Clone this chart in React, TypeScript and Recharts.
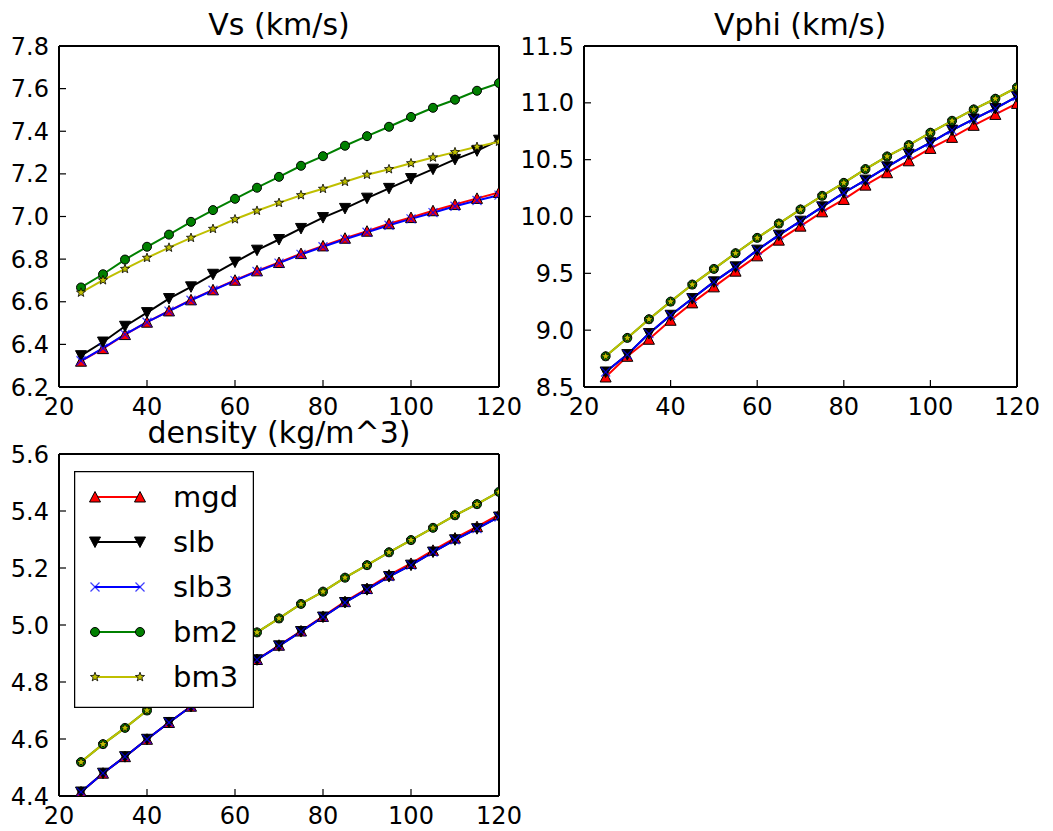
import React from 'react';
import { LineChart, Line, XAxis, YAxis, Legend } from 'recharts';

const pressures = [25, 30, 35, 40, 45, 50, 55, 60, 65, 70, 75, 80, 85, 90, 95, 100, 105, 110, 115, 120];

const vsMgd = [6.321, 6.38, 6.446, 6.504, 6.557, 6.609, 6.656, 6.701, 6.745, 6.784, 6.826, 6.862, 6.898, 6.931, 6.966, 6.995, 7.027, 7.056, 7.085, 7.113];
const vsSlb = [6.347, 6.411, 6.485, 6.549, 6.615, 6.67, 6.729, 6.786, 6.842, 6.892, 6.944, 6.995, 7.038, 7.086, 7.132, 7.178, 7.222, 7.268, 7.308, 7.358];
const vsSlb3 = [6.323, 6.382, 6.447, 6.504, 6.556, 6.607, 6.654, 6.699, 6.742, 6.781, 6.822, 6.858, 6.893, 6.926, 6.959, 6.989, 7.018, 7.048, 7.075, 7.1];
const vsBm2 = [6.667, 6.729, 6.798, 6.858, 6.915, 6.975, 7.03, 7.083, 7.135, 7.186, 7.238, 7.283, 7.332, 7.377, 7.421, 7.467, 7.51, 7.548, 7.59, 7.626];
const vsBm3 = [6.643, 6.701, 6.754, 6.806, 6.854, 6.9, 6.942, 6.987, 7.027, 7.064, 7.1, 7.13, 7.163, 7.196, 7.222, 7.25, 7.277, 7.302, 7.327, 7.351];

const vphiMgd = [8.588, 8.77, 8.92, 9.087, 9.24, 9.381, 9.519, 9.654, 9.792, 9.915, 10.041, 10.15, 10.276, 10.385, 10.49, 10.599, 10.696, 10.802, 10.898, 10.995];
const vphiSlb = [8.632, 8.785, 8.97, 9.131, 9.278, 9.425, 9.557, 9.704, 9.836, 9.959, 10.085, 10.209, 10.32, 10.437, 10.549, 10.649, 10.76, 10.857, 10.951, 11.054];
const vphiSlb3 = [8.632, 8.785, 8.97, 9.131, 9.278, 9.425, 9.557, 9.704, 9.836, 9.959, 10.085, 10.209, 10.32, 10.437, 10.549, 10.649, 10.76, 10.857, 10.951, 11.054];
const vphiBm2 = [8.77, 8.932, 9.096, 9.251, 9.401, 9.539, 9.677, 9.812, 9.938, 10.062, 10.182, 10.296, 10.417, 10.528, 10.628, 10.737, 10.842, 10.942, 11.036, 11.136];
const vphiBm3 = [8.77, 8.932, 9.096, 9.251, 9.401, 9.539, 9.677, 9.812, 9.938, 10.062, 10.182, 10.296, 10.417, 10.528, 10.628, 10.737, 10.842, 10.942, 11.036, 11.136];

const rhoMgd = [4.414, 4.48, 4.538, 4.599, 4.658, 4.715, 4.77, 4.825, 4.879, 4.929, 4.979, 5.03, 5.082, 5.128, 5.175, 5.216, 5.262, 5.305, 5.345, 5.387];
const rhoSlb = [4.414, 4.48, 4.538, 4.599, 4.658, 4.714, 4.769, 4.824, 4.878, 4.927, 4.977, 5.028, 5.079, 5.124, 5.17, 5.21, 5.256, 5.299, 5.338, 5.379];
const rhoSlb3 = [4.414, 4.48, 4.538, 4.599, 4.658, 4.714, 4.769, 4.824, 4.878, 4.927, 4.977, 5.028, 5.079, 5.124, 5.17, 5.21, 5.256, 5.299, 5.338, 5.379];
const rhoBm2 = [4.519, 4.582, 4.639, 4.7, 4.758, 4.814, 4.868, 4.921, 4.974, 5.023, 5.074, 5.117, 5.166, 5.21, 5.255, 5.298, 5.341, 5.385, 5.424, 5.467];
const rhoBm3 = [4.519, 4.582, 4.639, 4.7, 4.758, 4.814, 4.868, 4.921, 4.974, 5.023, 5.074, 5.117, 5.166, 5.21, 5.255, 5.298, 5.341, 5.385, 5.424, 5.467];

const xTicks = [20, 40, 60, 80, 100, 120];
const vsTicks = [6.2, 6.4, 6.6, 6.8, 7.0, 7.2, 7.4, 7.6, 7.8];
const vphiTicks = [8.5, 9.0, 9.5, 10.0, 10.5, 11.0, 11.5];
const rhoTicks = [4.4, 4.6, 4.8, 5.0, 5.2, 5.4, 5.6];

const FONT = 'DejaVu Sans';

const series = [
  { key: 'mgd', color: '#ff0000', marker: 'tri_up' },
  { key: 'slb', color: '#000000', marker: 'tri_down' },
  { key: 'slb3', color: '#0000ff', marker: 'x' },
  { key: 'bm2', color: '#008000', marker: 'circle' },
  { key: 'bm3', color: '#bfbf00', marker: 'star' },
];

const buildRows = (cols: Record<string, number[]>) =>
  pressures.map((p, i) => {
    const row: Record<string, number> = { p };
    Object.keys(cols).forEach((k) => {
      row[k] = cols[k][i];
    });
    return row;
  });

const vsData = buildRows({ mgd: vsMgd, slb: vsSlb, slb3: vsSlb3, bm2: vsBm2, bm3: vsBm3 });
const vphiData = buildRows({ mgd: vphiMgd, slb: vphiSlb, slb3: vphiSlb3, bm2: vphiBm2, bm3: vphiBm3 });
const rhoData = buildRows({ mgd: rhoMgd, slb: rhoSlb, slb3: rhoSlb3, bm2: rhoBm2, bm3: rhoBm3 });

const starPoints = (cx: number, cy: number, r: number) => {
  const pts: string[] = [];
  for (let i = 0; i < 10; i++) {
    const rad = i % 2 === 0 ? r : r * 0.42;
    const a = -Math.PI / 2 + (i * Math.PI) / 5;
    pts.push(`${cx + rad * Math.cos(a)},${cy + rad * Math.sin(a)}`);
  }
  return pts.join(' ');
};

const Marker = ({ cx, cy, type, color }: { cx: number; cy: number; type: string; color: string }) => {
  if (cx == null || cy == null) return null;
  switch (type) {
    case 'tri_up':
      return <polygon points={`${cx},${cy - 5.5} ${cx - 5.5},${cy + 5} ${cx + 5.5},${cy + 5}`} fill={color} stroke="#000" strokeWidth={1} />;
    case 'tri_down':
      return <polygon points={`${cx},${cy + 5.5} ${cx - 5.5},${cy - 5} ${cx + 5.5},${cy - 5}`} fill={color} stroke="#000" strokeWidth={1} />;
    case 'x':
      return (
        <g stroke={color} strokeWidth={1.2} strokeOpacity={0.75}>
          <line x1={cx - 4.5} y1={cy - 4.5} x2={cx + 4.5} y2={cy + 4.5} />
          <line x1={cx - 4.5} y1={cy + 4.5} x2={cx + 4.5} y2={cy - 4.5} />
        </g>
      );
    case 'circle':
      return <circle cx={cx} cy={cy} r={4.5} fill={color} stroke="#000" strokeWidth={1} />;
    case 'star':
      return <polygon points={starPoints(cx, cy, 4.8)} fill={color} stroke="#000" strokeWidth={0.8} />;
    default:
      return null;
  }
};

// keep the plotting order (mgd, slb, slb3, bm2, bm3) instead of the sorted payload
const renderLegend = () => (
  <svg width={180} height={237} style={{ display: 'block' }}>
    <rect x={0.5} y={0.5} width={179} height={236} fill="#fff" stroke="#000" strokeWidth={1.5} />
    {series.map((s, i) => {
      const y = 26 + i * 45;
      return (
        <g key={s.key}>
          <line x1={21} y1={y} x2={66} y2={y} stroke={s.color} strokeWidth={2} />
          <Marker cx={21} cy={y} type={s.marker} color={s.color} />
          <Marker cx={66} cy={y} type={s.marker} color={s.color} />
          <text x={99} y={y + 10} fontFamily={FONT} fontSize={29} fill="#000">
            {s.key}
          </text>
        </g>
      );
    })}
  </svg>
);

interface PanelProps {
  data: Record<string, number>[];
  yDomain: [number, number];
  yTicks: number[];
  left: number;
  top: number;
  width: number;
  height: number;
  yAxisWidth: number;
  rightMargin: number;
  showLegend?: boolean;
}

const tickStyle = { fontFamily: FONT, fontSize: 24, fill: '#000' };
const frame = { stroke: '#000', strokeWidth: 2 };
const tickLine = { stroke: '#000', strokeWidth: 1.2 };

const Panel: React.FC<PanelProps> = ({ data, yDomain, yTicks, left, top, width, height, yAxisWidth, rightMargin, showLegend }) => (
  <div style={{ position: 'absolute', left, top }}>
    <LineChart width={width} height={height} data={data} margin={{ top: 45, right: rightMargin - 1, left: 0, bottom: 0 }}>
      <XAxis
        xAxisId="b"
        dataKey="p"
        type="number"
        domain={[20, 120]}
        ticks={xTicks}
        allowDataOverflow
        height={33}
        tickSize={-7}
        tickMargin={18}
        tick={tickStyle}
        axisLine={frame}
        tickLine={tickLine}
      />
      {/* top frame edge with inward ticks; needs a non-zero size to be drawn */}
      <XAxis
        xAxisId="t"
        orientation="top"
        dataKey="p"
        type="number"
        domain={[20, 120]}
        ticks={xTicks}
        allowDataOverflow
        height={1}
        tickSize={-7}
        tick={false}
        axisLine={frame}
        tickLine={tickLine}
      />
      <YAxis
        yAxisId="l"
        type="number"
        domain={yDomain}
        ticks={yTicks}
        allowDataOverflow
        width={yAxisWidth}
        tickSize={-7}
        tickMargin={17}
        tick={tickStyle}
        tickFormatter={(v: number) => v.toFixed(1)}
        axisLine={frame}
        tickLine={tickLine}
      />
      <YAxis
        yAxisId="r"
        orientation="right"
        type="number"
        domain={yDomain}
        ticks={yTicks}
        allowDataOverflow
        width={1}
        tickSize={-7}
        tick={false}
        axisLine={frame}
        tickLine={tickLine}
      />
      <Line
        xAxisId="t"
        yAxisId="r"
        dataKey="bm3"
        stroke="none"
        dot={false}
        activeDot={false}
        legendType="none"
        isAnimationActive={false}
      />
      {series.map((s) => (
        <Line
          key={s.key}
          xAxisId="b"
          yAxisId="l"
          type="linear"
          dataKey={s.key}
          name={s.key}
          stroke={s.color}
          strokeWidth={2}
          isAnimationActive={false}
          dot={(props: any) => <Marker key={`${s.key}-${props.index}`} cx={props.cx} cy={props.cy} type={s.marker} color={s.color} />}
          activeDot={false}
        />
      ))}
      {showLegend && (
        <Legend
          layout="vertical"
          align="center"
          verticalAlign="middle"
          content={renderLegend}
          wrapperStyle={{ position: 'absolute', left: 74, top: 471 - top, width: 180, height: 237 }}
        />
      )}
    </LineChart>
  </div>
);

const Title = ({ text, cx, y }: { text: string; cx: number; y: number }) => (
  <div
    style={{
      position: 'absolute',
      left: cx - 200,
      width: 400,
      top: y,
      textAlign: 'center',
      fontFamily: FONT,
      fontSize: 30,
      lineHeight: '20px',
      color: '#000',
      whiteSpace: 'nowrap',
    }}
  >
    {text}
  </div>
);

export default function App() {
  return (
    <div style={{ position: 'absolute', left: 0, top: 0, width: 1053, height: 831, background: '#fff' }}>
      <Panel data={vsData} yDomain={[6.2, 7.8]} yTicks={vsTicks} left={0} top={0} width={540} height={420} yAxisWidth={59} rightMargin={41} />
      <Panel data={vphiData} yDomain={[8.5, 11.5]} yTicks={vphiTicks} left={520} top={0} width={533} height={420} yAxisWidth={64} rightMargin={36} />
      <Panel data={rhoData} yDomain={[4.4, 5.6]} yTicks={rhoTicks} left={0} top={408} width={540} height={421} yAxisWidth={59} rightMargin={41} showLegend />
      <Title text="Vs (km/s)" cx={279} y={15} />
      <Title text="Vphi (km/s)" cx={800} y={15} />
      <Title text="density (kg/m^3)" cx={279} y={423} />
    </div>
  );
}
